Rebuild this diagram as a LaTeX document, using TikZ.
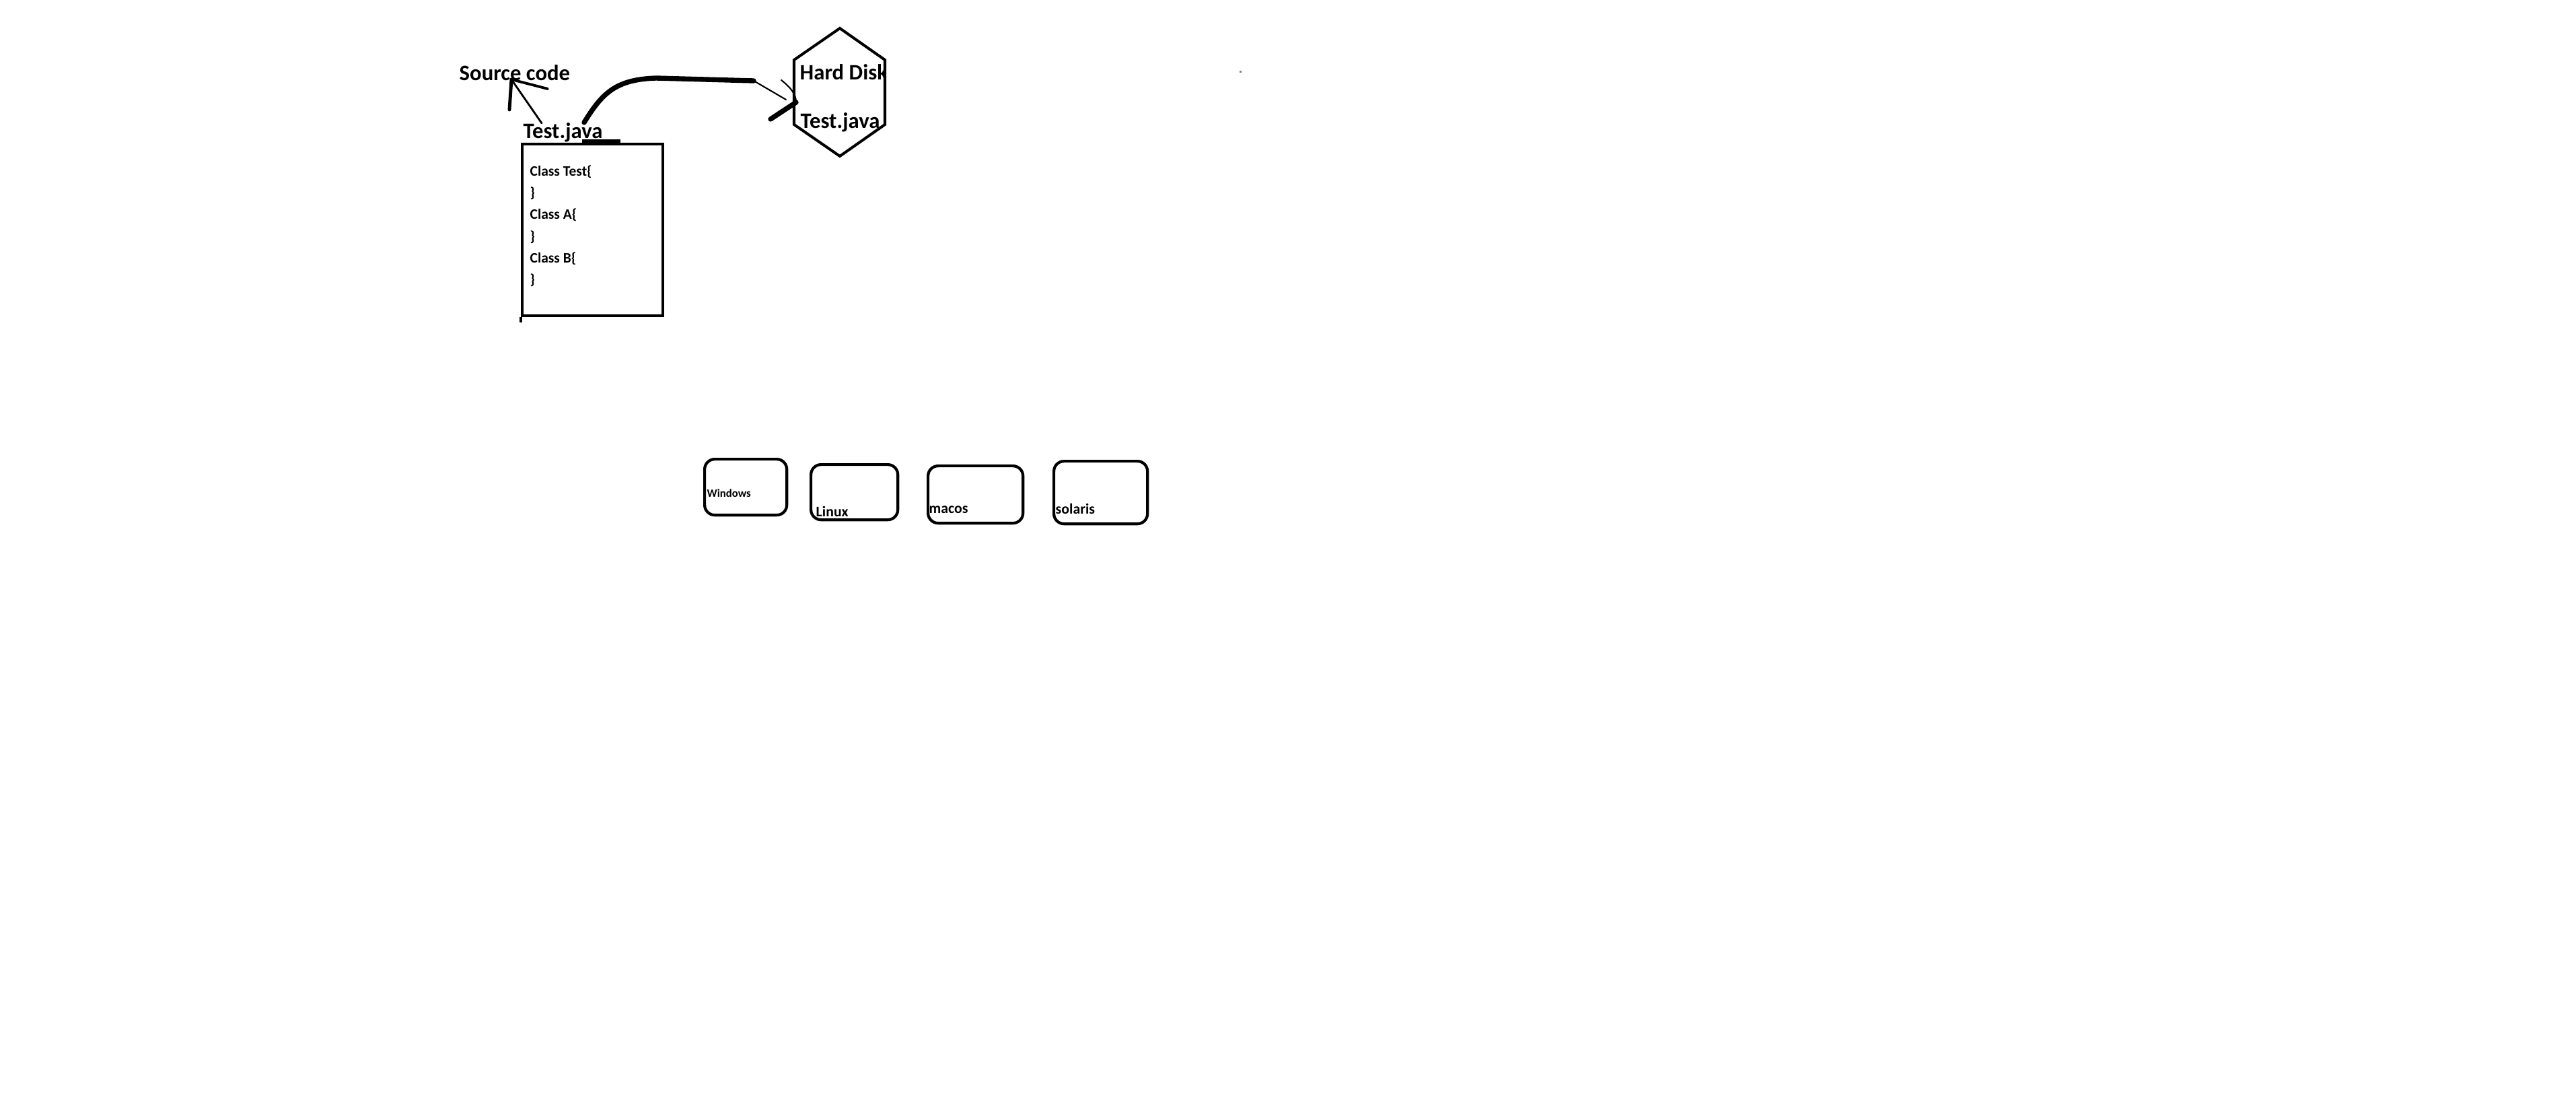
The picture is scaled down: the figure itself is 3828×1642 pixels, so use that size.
\documentclass[tikz,border=0pt]{standalone}
\usepackage{fontspec}
\setmainfont{Carlito}
\begin{document}
\begin{tikzpicture}[x=0.01cm,y=-0.01cm,
  big/.style={font=\bfseries\fontsize{9.3}{11}\selectfont, inner sep=0, anchor=base west},
  code/.style={font=\bfseries\fontsize{6.1}{7}\selectfont, inner sep=0, anchor=base west},
  osbox/.style={draw, line width=1.2pt, rounded corners=0.15cm, inner sep=0, anchor=north west},
  oslabel/.style={font=\bfseries\fontsize{6.2}{7}\selectfont, inner sep=0, anchor=base west},
  ink/.style={line cap=round, line join=round}]
\useasboundingbox (0,0) rectangle (3828,1642);

% labels
\node[big] (src) at (682,119) {Source code};
\node[big] (tj) at (777,205) {Test.java};

% arrow to "Source code"
\coordinate (a0) at (805,183);
\coordinate (a1) at (760,118);
\coordinate (a2) at (757,163);
\coordinate (a3) at (814,132);
\draw[ink, line width=0.8pt] (a0) -- (a1);
\draw[ink, line width=1.4pt] (a1) -- (a2);
\draw[ink, line width=1.1pt] (a1) -- (a3);

% file box
\node[draw, line width=1.15pt, minimum width=2.09cm, minimum height=2.55cm, anchor=north west, inner sep=0] (file) at (774,212) {};
\draw[line width=1.15pt] (file.south west) -- ++(0,8);
\draw[line width=1.6pt] (865,210) -- (922,210);
\node[code] (c1) at (787,261) {Class Test\{};
\node[code] (c2) at (787,293) {\}};
\node[code] (c3) at (787,325) {Class A\{};
\node[code] (c4) at (787,358) {\}};
\node[code] (c5) at (787,390) {Class B\{};
\node[code] (c6) at (787,422) {\}};

% hexagon (hard disk)
\coordinate (h1) at (1248,42);
\coordinate (h2) at (1315,89);
\coordinate (h3) at (1315,185);
\coordinate (h4) at (1248,232);
\coordinate (h5) at (1180,185);
\coordinate (h6) at (1180,89);
\begin{scope}
\clip (h1) -- (h2) -- (h3) -- (h4) -- (h5) -- (h6) -- cycle;
\node[big] (hd) at (1188,118) {Hard Disk};
\node[big] (hj) at (1189,190) {Test.java};
\end{scope}
\draw[line width=1.15pt, line join=miter] (h1) -- (h2) -- (h3) -- (h4) -- (h5) -- (h6) -- cycle;

% curved connector to hard disk
\coordinate (cs) at (868,182);
\coordinate (cm) at (1120,120);
\coordinate (tip) at (1183,152);
\draw[ink, line width=2.1pt] (cs) .. controls (895,138) and (915,118) .. (975,116) -- (cm);
\draw[ink, line width=0.6pt] (cm) -- (1168,148);
\draw[ink, line width=2.1pt] (1145,177) -- (tip);
\draw[ink, line width=0.6pt] (1161,119) .. controls (1175,130) and (1183,140) .. (tip);

% operating systems
\node[osbox, minimum width=1.22cm, minimum height=0.83cm] (win) at (1045,680) {};
\node[osbox, minimum width=1.29cm, minimum height=0.82cm] (lin) at (1203,688) {};
\node[osbox, minimum width=1.41cm, minimum height=0.85cm] (mac) at (1377,690) {};
\node[osbox, minimum width=1.39cm, minimum height=0.93cm] (sol) at (1564,683) {};
\node[oslabel, font=\bfseries\fontsize{4.75}{6}\selectfont] (winl) at (1050,738) {Windows};
\node[oslabel] (linl) at (1212,767) {Linux};
\node[oslabel] (macl) at (1380,762) {macos};
\node[oslabel] (soll) at (1568,763) {solaris};

% speck
\fill[gray] (1842,105) rectangle (1845,108);
\end{tikzpicture}
\end{document}
